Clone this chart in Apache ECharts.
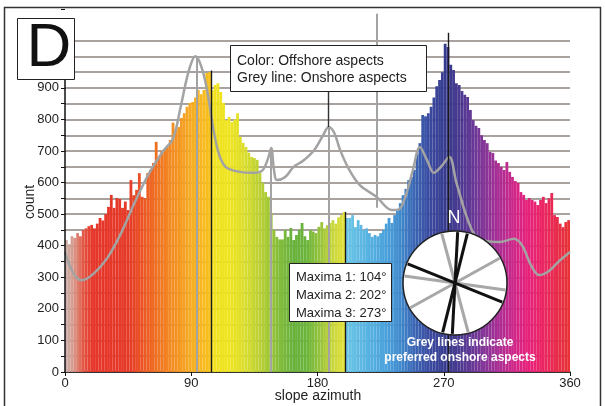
<!DOCTYPE html>
<html>
<head>
<meta charset="utf-8">
<script src="https://cdn.jsdelivr.net/npm/echarts@6/dist/echarts.min.js"></script>
<style>
html, body { margin: 0; padding: 0; background: #fff; }
#main { width: 605px; height: 406px; }
</style>
</head>
<body>
<div id="main"></div>
<script>
// offshore histogram, 2 degree bins, centres 1,3,...,359
var binWidth = 2;
var offshoreCounts = [
    418, 405, 430, 425, 440, 430, 450, 455, 462, 466,
    455, 470, 488, 480, 500, 523, 561, 520, 551, 548,
    520, 540, 513, 608, 560, 577, 630, 555, 551, 630,
    640, 662, 729, 681, 700, 703, 715, 735, 790, 767,
    776, 805, 820, 840, 852, 855, 870, 893, 880, 893,
    947, 950, 893, 909, 915, 887, 852, 798, 808, 792,
    800, 820, 745, 726, 713, 695, 681, 678, 672, 630,
    599, 570, 555, 504, 450, 428, 420, 420, 450, 428,
    456, 418, 434, 450, 472, 430, 418, 450, 445, 440,
    460, 475, 455, 465, 472, 481, 470, 490, 497, 507,
    488, 488, 497, 459, 481, 466, 450, 455, 440, 428,
    434, 430, 440, 450, 470, 488, 472, 497, 513, 535,
    560, 580, 608, 618, 640, 690, 725, 814, 810, 820,
    840, 870, 905, 925, 950, 1040, 1030, 973, 957, 915,
    909, 890, 878, 871, 830, 798, 780, 773, 750, 735,
    725, 697, 694, 670, 662, 650, 640, 665, 634, 618,
    605, 599, 570, 561, 545, 551, 545, 540, 529, 545,
    555, 535, 550, 567, 497, 491, 470, 459, 475, 481
];

// onshore curve (grey line)
var onshoreDeg = [0, 4, 8, 12, 20, 30, 40, 50, 60, 70, 77, 82, 88, 93, 97, 101, 105, 108, 111, 115,
    125, 135, 141, 145, 147, 149, 151, 157, 163, 170, 178, 184, 188, 192, 196, 202, 210, 222, 233, 238,
    243, 248, 253, 258, 263, 268, 274, 279, 290, 298, 310, 320, 326, 332, 338, 345, 352, 360];
var onshoreCount = [380, 330, 300, 291, 310, 360, 440, 540, 630, 700, 740, 830, 950, 1000, 970, 900, 790, 720, 675, 648,
    634, 631, 640, 680, 710, 640, 608, 618, 650, 670, 705, 750, 776, 757, 705, 646, 593, 555, 513, 515,
    560, 640, 713, 672, 631, 650, 681, 600, 450, 418, 412, 422, 400, 340, 307, 320, 350, 380];

// vertical lines: [azimuth, from, to]
var maximaLines = [[104, 0, 955], [200, 0, 507], [273, 0, 1075]];
var onshorePeakLines = [[94, 0, 1000], [147, 0, 710], [188, 0, 776], [222, 520, 1135]];

var yLabelMax = 900;
var gridLineMax = 1050;

// compass: strike directions (deg from north)
var offshoreStrikes = [3, 14, 112];
var onshoreStrikes = [165, 61, 98];

var colorStops = [
    [0, '#c8b4ae'], [6, '#d8988a'], [14, '#e4503e'], [20, '#e6352a'], [45, '#e63a28'], [55, '#ec5424'],
    [65, '#f07022'], [78, '#f39022'], [90, '#f6ac22'], [104, '#f7c21e'],
    [104, '#f2e21c'], [118, '#eee420'], [130, '#d6dc2e'], [142, '#b0cc36'], [152, '#86be3a'],
    [162, '#68b23c'], [172, '#6ab43c'], [182, '#98c43c'], [190, '#c4d63a'], [200, '#e6e23a'],
    [200, '#6cc6e6'], [215, '#58b4e2'], [230, '#48a0da'], [240, '#4086cc'], [250, '#3a64b2'],
    [260, '#3a4aa0'], [272, '#373a8c'], [282, '#4c3a92'], [292, '#6c3896'], [302, '#903498'],
    [312, '#b42c92'], [322, '#d62686'], [332, '#e82078'], [342, '#ea2660'], [352, '#e82c48'], [360, '#e83232']
];

function hexRgb(h) {
    return [parseInt(h.substr(1, 2), 16), parseInt(h.substr(3, 2), 16), parseInt(h.substr(5, 2), 16)];
}
function aspectColor(deg) {
    for (var i = 0; i < colorStops.length - 1; i++) {
        var a = colorStops[i], b = colorStops[i + 1];
        if (b[0] > a[0] && deg >= a[0] && deg <= b[0]) {
            var t = (deg - a[0]) / (b[0] - a[0]);
            var ca = hexRgb(a[1]), cb = hexRgb(b[1]);
            return 'rgb(' + Math.round(ca[0] + (cb[0] - ca[0]) * t) + ',' +
                Math.round(ca[1] + (cb[1] - ca[1]) * t) + ',' +
                Math.round(ca[2] + (cb[2] - ca[2]) * t) + ')';
        }
    }
    return colorStops[colorStops.length - 1][1];
}

var binCentres = offshoreCounts.map(function (v, i) { return binWidth / 2 + i * binWidth; });
var onshoreData = onshoreDeg.map(function (d, i) { return [d, onshoreCount[i]]; });

// grid lines every 50 up to 1050 only
var gridColors = [];
for (var v = 0; v <= 1150; v += 50) gridColors.push(v <= gridLineMax ? '#8c837e' : 'rgba(0,0,0,0)');

var vLines = [];
maximaLines.forEach(function (m) {
    vLines.push([{ coord: [m[0], m[1]], lineStyle: { color: '#1a1a1a', width: 1.4, type: 'solid' } }, { coord: [m[0], m[2]] }]);
});
onshorePeakLines.forEach(function (m) {
    vLines.push([{ coord: [m[0], m[1]], lineStyle: { color: '#a3a3a3', width: 2, type: 'solid' } }, { coord: [m[0], m[2]] }]);
});
// connector from legend box to onshore peak
vLines.push([{ coord: [188, 776], lineStyle: { color: '#333', width: 1.4, type: 'solid' } }, { coord: [188, 887] }]);
// y axis line
vLines.push([{ coord: [0, 0], lineStyle: { color: '#111', width: 1.5, type: 'solid' } }, { coord: [0, 930] }]);

var chart = echarts.init(document.getElementById('main'));
var font = "'Liberation Sans', Arial, sans-serif";

// compass
var cx = 455, cy = 283, r = 52;
var compass = [
    { type: 'circle', z: 100, shape: { cx: cx, cy: cy, r: r }, style: { fill: '#fff', stroke: '#222', lineWidth: 1.5 } }
];
function strikeLine(az, color) {
    var a = az * Math.PI / 180;
    var dx = Math.sin(a) * (r - 1), dy = -Math.cos(a) * (r - 1);
    return { type: 'line', z: 101, shape: { x1: cx + dx, y1: cy + dy, x2: cx - dx, y2: cy - dy }, style: { stroke: color, lineWidth: 3 } };
}
onshoreStrikes.forEach(function (s) { compass.push(strikeLine(s, '#a8a8a8')); });
offshoreStrikes.forEach(function (s) { compass.push(strikeLine(s, '#111')); });

var option = {
    animation: false,
    grid: { left: 65, right: 35, top: 9, bottom: 34, outerBoundsMode: 'none', containLabel: false },
    xAxis: [
        { type: 'category', data: binCentres, show: false, boundaryGap: true },
        {
            type: 'value', min: 0, max: 360, interval: 90, position: 'bottom',
            axisLine: { show: true, lineStyle: { color: '#111', width: 1.5 } },
            axisTick: { show: true, length: 4, lineStyle: { color: '#111' } },
            axisLabel: { fontSize: 13, color: '#222', margin: 5, fontFamily: font },
            splitLine: { show: false }
        }
    ],
    yAxis: {
        type: 'value', min: 0, max: 1150, interval: 50,
        axisLine: { show: false },
        axisTick: { show: true, length: 4, lineStyle: { color: '#111' } },
        axisLabel: {
            fontSize: 13, color: '#222', margin: 6, fontFamily: font,
            formatter: function (v) { return (v % 100 === 0 && v <= yLabelMax) ? String(v) : ''; }
        },
        splitLine: { show: true, lineStyle: { color: gridColors, width: 1.5 } }
    },
    series: [
        {
            type: 'bar', xAxisIndex: 0, yAxisIndex: 0, z: 2,
            barCategoryGap: 0, barGap: 0,
            data: offshoreCounts,
            itemStyle: { color: function (p) { return aspectColor(binCentres[p.dataIndex]); } },
            silent: true
        },
        {
            type: 'line', xAxisIndex: 1, yAxisIndex: 0, z: 3, clip: false,
            data: [], symbol: 'none', silent: true,
            markLine: { silent: true, symbol: 'none', label: { show: false }, data: vLines }
        },
        {
            type: 'line', xAxisIndex: 1, yAxisIndex: 0, z: 4,
            data: onshoreData, smooth: 0.35, symbol: 'none',
            lineStyle: { color: '#a3a3a3', width: 2.5 }, silent: true
        }
    ],
    graphic: [
        { type: 'rect', z: 99, shape: { x: 4.5, y: 7.5, width: 596, height: 420 }, style: { fill: null, stroke: '#333', lineWidth: 1.5 } },
        { type: 'rect', z: 100, shape: { x: 17.5, y: 18.5, width: 57, height: 61 }, style: { fill: '#fff', stroke: '#222', lineWidth: 1 } },
        { type: 'text', z: 101, x: 49, y: 49, style: { text: 'D', font: '62px ' + font, fill: '#111', align: 'center', verticalAlign: 'middle' } },
        { type: 'text', z: 100, x: 30, y: 202, rotation: Math.PI / 2, style: { text: 'count', font: '14px ' + font, fill: '#222', align: 'center', verticalAlign: 'middle' } },
        { type: 'text', z: 100, x: 318, y: 396, style: { text: 'slope azimuth', font: '14px ' + font, fill: '#222', align: 'center', verticalAlign: 'middle' } },
        { type: 'rect', z: 100, shape: { x: 230.5, y: 45.5, width: 196, height: 46 }, style: { fill: '#fff', stroke: '#222', lineWidth: 1 } },
        { type: 'text', z: 101, x: 237, y: 61, style: { text: 'Color: Offshore aspects', font: '14px ' + font, fill: '#222', verticalAlign: 'middle' } },
        { type: 'text', z: 101, x: 237, y: 78, style: { text: 'Grey line: Onshore aspects', font: '14px ' + font, fill: '#222', verticalAlign: 'middle' } },
        { type: 'rect', z: 100, shape: { x: 289.5, y: 263.5, width: 102, height: 58 }, style: { fill: '#fff', stroke: '#222', lineWidth: 1 } },
        { type: 'text', z: 101, x: 296, y: 277, style: { text: 'Maxima 1: 104°', font: '13px ' + font, fill: '#222', verticalAlign: 'middle' } },
        { type: 'text', z: 101, x: 296, y: 295, style: { text: 'Maxima 2: 202°', font: '13px ' + font, fill: '#222', verticalAlign: 'middle' } },
        { type: 'text', z: 101, x: 296, y: 313, style: { text: 'Maxima 3: 273°', font: '13px ' + font, fill: '#222', verticalAlign: 'middle' } },
        { type: 'text', z: 101, x: 454, y: 218, style: { text: 'N', font: '18px ' + font, fill: '#fff', align: 'center', verticalAlign: 'middle' } },
        { type: 'text', z: 101, x: 460, y: 343, style: { text: 'Grey lines indicate', font: 'bold 12px ' + font, fill: '#fff', align: 'center', verticalAlign: 'middle' } },
        { type: 'text', z: 101, x: 460, y: 358, style: { text: 'preferred onshore aspects', font: 'bold 12px ' + font, fill: '#fff', align: 'center', verticalAlign: 'middle' } }
    ].concat(compass)
};

chart.setOption(option);
</script>
</body>
</html>
